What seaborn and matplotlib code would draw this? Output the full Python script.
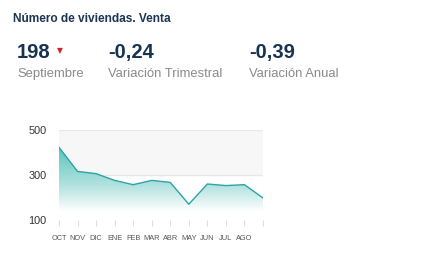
import numpy as np
import pandas as pd
import matplotlib
matplotlib.use("Agg")
import matplotlib.pyplot as plt
import seaborn as sns
from matplotlib.colors import LinearSegmentedColormap
from matplotlib.patches import Polygon

months = ["OCT", "NOV", "DIC", "ENE", "FEB", "MAR", "ABR", "MAY", "JUN", "JUL", "AGO", "SEP"]
values = [423, 316, 306, 276, 257, 276, 267, 170, 260, 253, 257, 198]
tick_labels = ["OCT", "NOV", "DIC", "ENE", "FEB", "MAR", "ABR", "MAY", "JUN", "JUL", "AGO", ""]
y_ticks = [100, 300, 500]

kpi_values = ["198", "-0,24", "-0,39"]
kpi_labels = ["Septiembre", "Variación Trimestral", "Variación Anual"]
title = "Número de viviendas. Venta"

sns.set_theme(style="white")
plt.rcParams["font.family"] = ["Liberation Sans", "DejaVu Sans"]

W, H = 437, 264
fig = plt.figure(figsize=(W / 100, H / 100), dpi=100)
fig.patch.set_facecolor("white")

ax = fig.add_axes([59 / W, 1 - 220 / H, (263 - 59) / W, 90 / H])
df = pd.DataFrame({"x": np.arange(len(months)), "v": values})

ax.axhspan(300, 500, color="#f7f7f7", zorder=0, lw=0)
for yv in y_ticks:
    ax.axhline(yv, color="#e8e8e8", lw=1.0, zorder=1)

# gradient fill under the line
cmap = LinearSegmentedColormap.from_list(
    "g", [(0.0, "#ffffff"), (0.12, "#ffffff"), (0.45, "#b6e4e1"), (1.0, "#5cc3be")], N=256)
grad = np.linspace(0, 1, 256).reshape(-1, 1)
ymin_g, ymax_g = 100, max(values)
im = ax.imshow(grad, extent=[0, len(values) - 1, ymin_g, ymax_g], origin="lower",
               aspect="auto", cmap=cmap, zorder=2)
poly_pts = [(0, 100)] + list(zip(df["x"], df["v"])) + [(len(values) - 1, 100)]
clip = Polygon(poly_pts, closed=True, transform=ax.transData, facecolor="none", edgecolor="none")
ax.add_patch(clip)
im.set_clip_path(clip)

sns.lineplot(data=df, x="x", y="v", ax=ax, color="#2aa5a3", lw=1.0, zorder=3)

ax.set_xlim(0, len(values) - 1)
ax.set_ylim(100, 500)
ax.set_yticks(y_ticks)
ax.set_yticklabels([str(v) for v in y_ticks], fontsize=7.8, color="#333333")
ax.set_xticks(df["x"])
ax.set_xticklabels(tick_labels, fontsize=5.3, color="#555555")
ax.tick_params(axis="x", length=4.5, color="#dddddd", width=0.8, pad=6, bottom=True)
ax.tick_params(axis="y", length=0, pad=9)
ax.set_xlabel("")
ax.set_ylabel("")
for s in ax.spines.values():
    s.set_visible(False)

# header texts
fig.text(13 / W, 1 - 22.5 / H, title, fontsize=8.6, fontweight="bold", color="#1c3550")
xs = [17, 108, 249]
for x, v, l in zip(xs, kpi_values, kpi_labels):
    fig.text(x / W, 1 - 58 / H, v, fontsize=14.5, fontweight="bold", color="#163352")
    fig.text(x / W, 1 - 77 / H, l, fontsize=9.4, color="#8a8a8a")

# red down triangle next to 198
fig.text(59.5 / W, 1 - 51 / H, "▼", fontsize=5.5, color="#d0202a", ha="center", va="center",
         family=["DejaVu Sans"])

fig.savefig("out.png", dpi=100, facecolor="white")
